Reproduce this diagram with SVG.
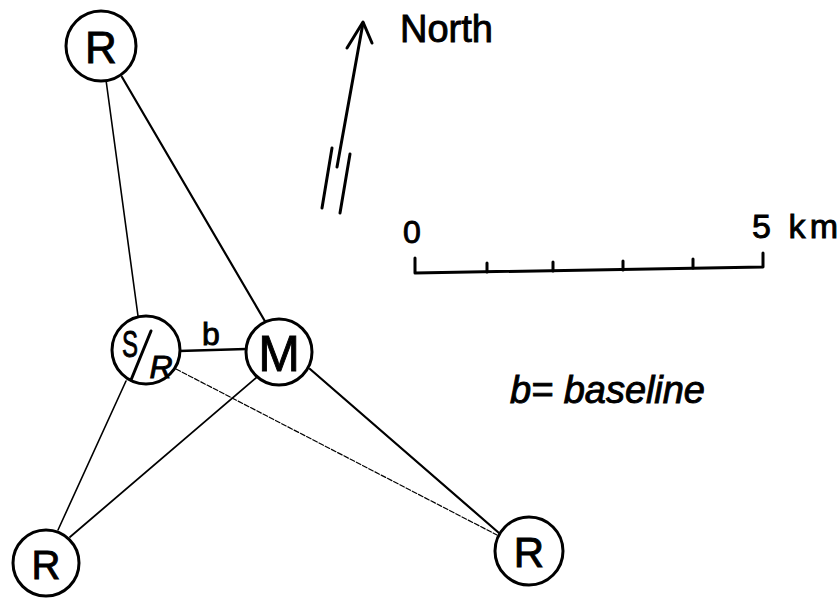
<svg xmlns="http://www.w3.org/2000/svg" width="840" height="598" viewBox="0 0 840 598">
<style>
.node{fill:#fff;stroke:#000;stroke-width:3}
.lbl{font-family:"Liberation Sans",Arial,sans-serif;fill:#000;stroke:#000;stroke-width:0.9}
.edge{stroke:#000;fill:none;stroke-linecap:round}
.ink{stroke:#000;fill:none;stroke-width:3;stroke-linecap:round;stroke-linejoin:round}
</style>
<rect width="840" height="598" fill="#fff"/>
<g id="connectors">
<line class="edge" x1="106" y1="80" x2="138" y2="316" stroke-width="1.6"/>
<line class="edge" x1="122" y1="77" x2="266" y2="323" stroke-width="2.2"/>
<line class="edge" x1="179" y1="351" x2="246" y2="349" stroke-width="2.6"/>
<line class="edge" x1="176" y1="369" x2="497" y2="535" stroke-width="1.2" stroke="#555" stroke-dasharray="5 2"/>
<line class="edge" x1="257" y1="377" x2="70" y2="537" stroke-width="1.8"/>
<line class="edge" x1="126" y1="381" x2="58" y2="530" stroke-width="1.6"/>
<line class="edge" x1="310" y1="369" x2="499" y2="533" stroke-width="2.2"/>
</g>
<g id="node-r-top"><circle class="node" cx="101" cy="46" r="35"/><text class="lbl" x="101" y="63" font-size="44" text-anchor="middle">R</text></g>
<g id="node-sr"><circle class="node" cx="146" cy="350" r="34"/><text class="lbl" x="130" y="357" font-size="36" text-anchor="middle" textLength="16" lengthAdjust="spacingAndGlyphs">S</text><line x1="131" y1="380" x2="151" y2="331" stroke="#000" stroke-width="3" stroke-linecap="round"/><text class="lbl" x="161" y="378" font-size="32" font-style="italic" text-anchor="middle">R</text></g>
<g id="node-m"><circle class="node" cx="279" cy="352" r="33"/><text class="lbl" x="279" y="371" font-size="50" text-anchor="middle">M</text></g>
<g id="node-r-bl"><circle class="node" cx="46" cy="563" r="33" stroke-width="2.2"/><text class="lbl" x="46" y="579" font-size="40" text-anchor="middle">R</text></g>
<g id="node-r-br"><circle class="node" cx="529" cy="551" r="34"/><text class="lbl" x="529" y="567" font-size="42" text-anchor="middle">R</text></g>
<text class="lbl" x="211" y="345" font-size="32" text-anchor="middle">b</text>
<g id="north">
<path class="ink" d="M363 23 L337 167"/>
<path class="ink" d="M347 48 L363 22 L372 43"/>
<path class="ink" d="M332 148 L322 208"/>
<path class="ink" d="M350 154 L340 213"/>
<text class="lbl" x="400" y="42" font-size="38">North</text>
</g>
<g id="scale">
<path class="ink" d="M415 258 L415 273 L763 267 L763 253"/>
<path class="ink" d="M487 263 L487 272 M553 262 L553 271 M623 261 L623 270 M693 259 L693 268" stroke-width="2.5"/>
<text class="lbl" x="403" y="243" font-size="32">0</text>
<text class="lbl" x="752" y="238" font-size="34" textLength="86">5 km</text>
</g>
<text class="lbl" x="510" y="403" font-size="38" font-style="italic" textLength="195">b= baseline</text>
</svg>
